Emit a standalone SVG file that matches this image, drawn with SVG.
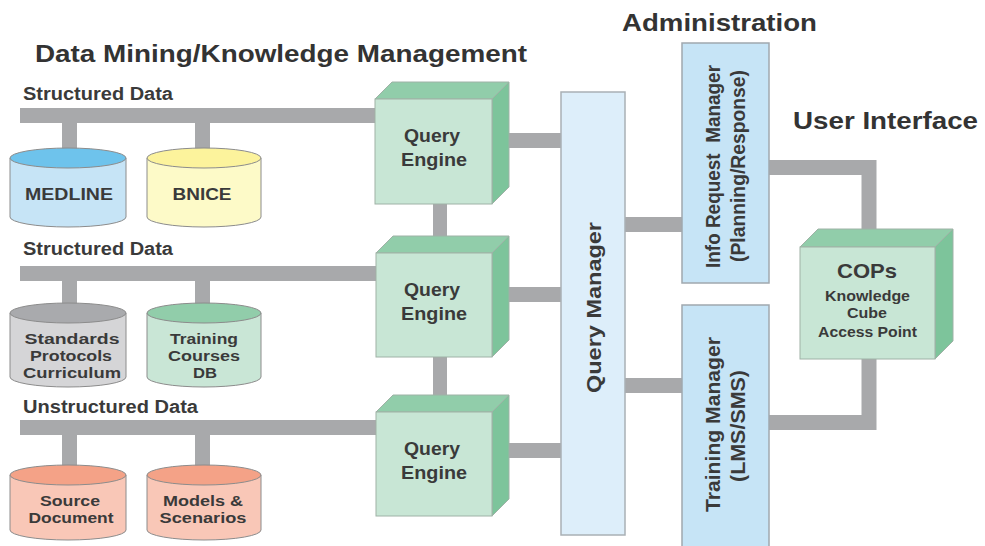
<svg xmlns="http://www.w3.org/2000/svg" width="985" height="546" viewBox="0 0 985 546">
  <style>
    text { font-family: "Liberation Sans", Arial, sans-serif; font-weight: bold; fill: #3a3a3a; }
    .title { font-size: 24px; fill: #333; }
    .sub { font-size: 18px; }
    .lbl { font-size: 17px; text-anchor: middle; }
    .lbl2 { font-size: 14.5px; text-anchor: middle; }
    .qe { font-size: 18px; text-anchor: middle; }
    .rot { font-size: 21px; text-anchor: middle; }
    .bar { fill: #a8a9ab; }
    .wire { fill: none; stroke: #a8a9ab; stroke-width: 15; stroke-linejoin: miter; }
    .cube-front { fill: #c8e6d5; stroke: #9fb2a6; stroke-width: 1; }
    .cube-top { fill: #91cdaa; stroke: #9fb2a6; stroke-width: 1; }
    .cube-side { fill: #7dc49b; stroke: #9fb2a6; stroke-width: 1; }
    .cyl { stroke: #8c8c8c; stroke-width: 1; }
    .mgr { fill: #c6e4f6; stroke: #a0a8ae; stroke-width: 1.5; }
    .qm { fill: #ddeefa; stroke: #a9b0b5; stroke-width: 1.5; }
  </style>

  <!-- section headings -->
  <text class="title" x="35" y="62" textLength="492" lengthAdjust="spacingAndGlyphs">Data Mining/Knowledge Management</text>
  <text class="title" x="622" y="31" textLength="195" lengthAdjust="spacingAndGlyphs">Administration</text>
  <text class="title" x="793" y="129" textLength="185" lengthAdjust="spacingAndGlyphs">User Interface</text>
  <text class="sub" x="23" y="100" textLength="150" lengthAdjust="spacingAndGlyphs">Structured Data</text>
  <text class="sub" x="23" y="255" textLength="150" lengthAdjust="spacingAndGlyphs">Structured Data</text>
  <text class="sub" x="23" y="413" textLength="175" lengthAdjust="spacingAndGlyphs">Unstructured Data</text>

  <!-- connectors -->
  <g id="connectors">
    <!-- data buses -->
    <rect class="bar" x="20" y="108" width="360" height="15"/>
    <rect class="bar" x="20" y="266" width="360" height="15"/>
    <rect class="bar" x="20" y="420" width="360" height="15"/>
    <!-- drops to databases -->
    <rect class="bar" x="62" y="120" width="15" height="32"/>
    <rect class="bar" x="195" y="120" width="15" height="32"/>
    <rect class="bar" x="62" y="278" width="15" height="30"/>
    <rect class="bar" x="195" y="278" width="15" height="30"/>
    <rect class="bar" x="62" y="432" width="15" height="37"/>
    <rect class="bar" x="195" y="432" width="15" height="37"/>
    <!-- engine chain -->
    <rect class="bar" x="433" y="200" width="14" height="40"/>
    <rect class="bar" x="433" y="354" width="14" height="45"/>
    <!-- engines to query manager -->
    <rect class="bar" x="500" y="133" width="62" height="15"/>
    <rect class="bar" x="500" y="287" width="62" height="15"/>
    <rect class="bar" x="500" y="443" width="62" height="15"/>
    <!-- query manager to managers -->
    <rect class="bar" x="624" y="217" width="59" height="15"/>
    <rect class="bar" x="624" y="378" width="59" height="15"/>
    <!-- managers to COPs -->
    <polyline class="wire" points="768,167.5 869,167.5 869,232"/>
    <polyline class="wire" points="768,422.5 869,422.5 869,356"/>
  </g>

  <!-- databases -->
  <g id="db-medline">
    <path class="cyl" fill="#c6e4f6" d="M10,158 V217 A58,10 0 0 0 126,217 V158 Z"/>
    <ellipse class="cyl" fill="#6ec3ec" cx="68" cy="158" rx="58" ry="10"/>
    <text class="lbl" x="69" y="200" textLength="88" lengthAdjust="spacingAndGlyphs">MEDLINE</text>
  </g>
  <g id="db-bnice">
    <path class="cyl" fill="#fdfac8" d="M147,158 V217 A57,10 0 0 0 261,217 V158 Z"/>
    <ellipse class="cyl" fill="#fcf39c" cx="204" cy="158" rx="57" ry="10"/>
    <text class="lbl" x="202" y="200" textLength="59" lengthAdjust="spacingAndGlyphs">BNICE</text>
  </g>
  <g id="db-standards">
    <path class="cyl" fill="#d5d5d7" d="M10,313 V377 A58,10 0 0 0 126,377 V313 Z"/>
    <ellipse class="cyl" fill="#a9aaad" cx="68" cy="313" rx="58" ry="10"/>
    <text class="lbl2" x="72" y="344" textLength="95" lengthAdjust="spacingAndGlyphs">Standards</text>
    <text class="lbl2" x="71" y="361" textLength="82" lengthAdjust="spacingAndGlyphs">Protocols</text>
    <text class="lbl2" x="72" y="378" textLength="98" lengthAdjust="spacingAndGlyphs">Curriculum</text>
  </g>
  <g id="db-training">
    <path class="cyl" fill="#c9e6d6" d="M147,313 V377 A57,10 0 0 0 261,377 V313 Z"/>
    <ellipse class="cyl" fill="#91cdaa" cx="204" cy="313" rx="57" ry="10"/>
    <text class="lbl2" x="204" y="344" textLength="68" lengthAdjust="spacingAndGlyphs">Training</text>
    <text class="lbl2" x="204" y="361" textLength="72" lengthAdjust="spacingAndGlyphs">Courses</text>
    <text class="lbl2" x="205" y="378" textLength="24" lengthAdjust="spacingAndGlyphs">DB</text>
  </g>
  <g id="db-source">
    <path class="cyl" fill="#f9c7b7" d="M10,475 V530 A58,10 0 0 0 126,530 V475 Z"/>
    <ellipse class="cyl" fill="#f4a287" cx="68" cy="475" rx="58" ry="10"/>
    <text class="lbl2" x="70" y="506" textLength="60" lengthAdjust="spacingAndGlyphs">Source</text>
    <text class="lbl2" x="71" y="523" textLength="85" lengthAdjust="spacingAndGlyphs">Document</text>
  </g>
  <g id="db-models">
    <path class="cyl" fill="#f9c7b7" d="M147,475 V530 A57,10 0 0 0 261,530 V475 Z"/>
    <ellipse class="cyl" fill="#f4a287" cx="204" cy="475" rx="57" ry="10"/>
    <text class="lbl2" x="203" y="506" textLength="80" lengthAdjust="spacingAndGlyphs">Models &amp;</text>
    <text class="lbl2" x="203" y="523" textLength="87" lengthAdjust="spacingAndGlyphs">Scenarios</text>
  </g>

  <!-- query engines -->
  <g id="query-engine-1">
    <polygon class="cube-top" points="375,99 392,82 509,82 492,99"/>
    <polygon class="cube-side" points="492,99 509,82 509,187 492,204"/>
    <rect class="cube-front" x="375" y="99" width="117" height="105"/>
    <text class="qe" x="432" y="142" textLength="56" lengthAdjust="spacingAndGlyphs">Query</text>
    <text class="qe" x="434" y="166" textLength="66" lengthAdjust="spacingAndGlyphs">Engine</text>
  </g>
  <g id="query-engine-2">
    <polygon class="cube-top" points="376,253 393,236 509,236 492,253"/>
    <polygon class="cube-side" points="492,253 509,236 509,340 492,357"/>
    <rect class="cube-front" x="376" y="253" width="116" height="104"/>
    <text class="qe" x="432" y="296" textLength="56" lengthAdjust="spacingAndGlyphs">Query</text>
    <text class="qe" x="434" y="320" textLength="66" lengthAdjust="spacingAndGlyphs">Engine</text>
  </g>
  <g id="query-engine-3">
    <polygon class="cube-top" points="376,412 393,395 509,395 492,412"/>
    <polygon class="cube-side" points="492,412 509,395 509,499 492,516"/>
    <rect class="cube-front" x="376" y="412" width="116" height="104"/>
    <text class="qe" x="432" y="455" textLength="56" lengthAdjust="spacingAndGlyphs">Query</text>
    <text class="qe" x="434" y="479" textLength="66" lengthAdjust="spacingAndGlyphs">Engine</text>
  </g>

  <!-- query manager -->
  <g id="query-manager">
    <rect class="qm" x="561" y="92" width="64" height="443"/>
    <text class="rot" transform="translate(601,307.5) rotate(-90)" textLength="171" lengthAdjust="spacingAndGlyphs">Query Manager</text>
  </g>

  <!-- administration -->
  <g id="info-request-manager">
    <rect class="mgr" x="682" y="43" width="87" height="240"/>
    <text class="rot" xml:space="preserve" transform="translate(720,166.5) rotate(-90)" textLength="203" lengthAdjust="spacingAndGlyphs">Info Request  Manager</text>
    <text class="rot" transform="translate(745,166) rotate(-90)" textLength="192" lengthAdjust="spacingAndGlyphs">(Planning/Response)</text>
  </g>
  <g id="training-manager">
    <rect class="mgr" x="682" y="305" width="87" height="260"/>
    <text class="rot" transform="translate(720,424.5) rotate(-90)" textLength="175" lengthAdjust="spacingAndGlyphs">Training Manager</text>
    <text class="rot" transform="translate(745,426) rotate(-90)" textLength="112" lengthAdjust="spacingAndGlyphs">(LMS/SMS)</text>
  </g>

  <!-- user interface -->
  <g id="cops">
    <polygon class="cube-top" points="800,247 818,229 953,229 935,247"/>
    <polygon class="cube-side" points="935,247 953,229 953,341 935,359"/>
    <rect class="cube-front" x="800" y="247" width="135" height="112"/>
    <text x="867" y="278" style="font-size:21px;text-anchor:middle" textLength="60" lengthAdjust="spacingAndGlyphs">COPs</text>
    <text x="867.5" y="301" style="font-size:15px;text-anchor:middle" textLength="85" lengthAdjust="spacingAndGlyphs">Knowledge</text>
    <text x="867" y="318" style="font-size:15px;text-anchor:middle" textLength="40" lengthAdjust="spacingAndGlyphs">Cube</text>
    <text x="867.5" y="337" style="font-size:15px;text-anchor:middle" textLength="99" lengthAdjust="spacingAndGlyphs">Access Point</text>
  </g>
</svg>
